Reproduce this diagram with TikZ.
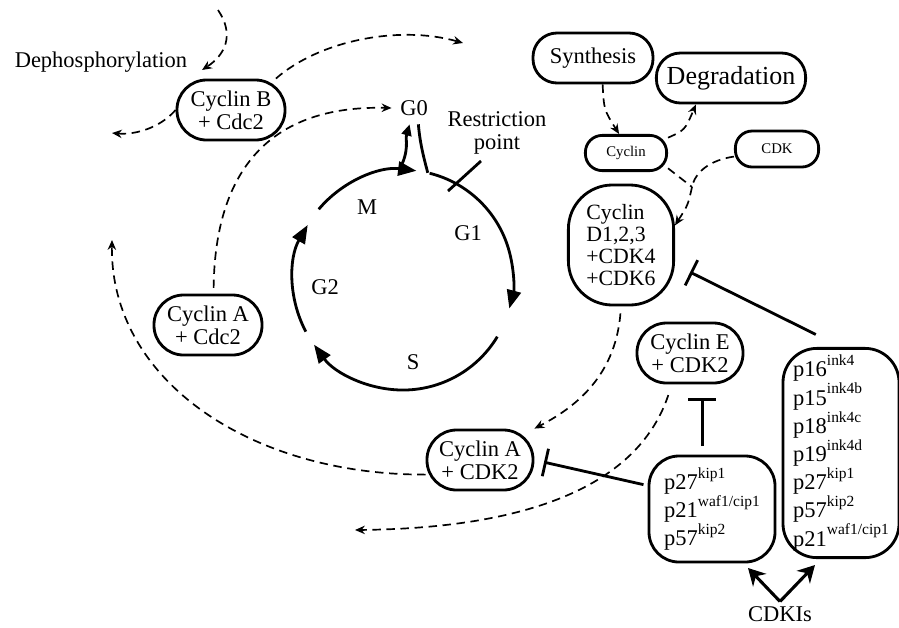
\documentclass[tikz,border=0pt]{standalone}
\usepackage{fontspec}
\setmainfont{Liberation Serif}
\usetikzlibrary{arrows.meta}
\newcommand{\hi}[1]{\raisebox{0.5em}{\fontsize{11}{11}\selectfont #1}}

\begin{document}
\begin{tikzpicture}[x=0.025cm,y=-0.025cm,
	pill/.style={draw,line width=2pt,rounded corners=0.74cm,align=center,inner sep=1pt,font=\fontsize{16}{16.5}\selectfont,minimum width=2.7cm,minimum height=1.5cm},
	tall/.style={draw,line width=2pt,align=left,inner sep=2pt,font=\fontsize{16}{18}\selectfont},
	lbl/.style={font=\fontsize{16}{16}\selectfont},
	phase/.style={line width=2pt,-{Triangle[length=13pt,width=10pt]}},
	dsh/.style={line width=1.2pt,dash pattern=on 6pt off 4pt,-{Stealth[length=7pt,width=6pt]}},
	dshline/.style={line width=1.2pt,dash pattern=on 6pt off 4pt},
	inh/.style={line width=2pt,-{Bar[width=20pt]}}]
	\useasboundingbox (0,0) rectangle (899,627);
	\node[pill] (cycB) at (231,110) {Cyclin B\\+ Cdc2};
	\node[pill] (cycAc) at (208,325) {Cyclin A\\+ Cdc2};
	\node[pill,minimum width=2.65cm] (cycAk) at (480,460) {Cyclin A\\+ CDK2};
	\node[pill,minimum width=2.65cm] (cycE) at (690,353) {Cyclin E\\+ CDK2};
	\node[pill,minimum width=3cm,minimum height=1.25cm,rounded corners=0.6cm] (syn) at (593,58) {Synthesis};
	\node[pill,minimum width=3.73cm,minimum height=1.25cm,rounded corners=0.6cm,font=\fontsize{18.5}{19}\selectfont] (deg) at (731,78) {Degradation};
	\node[pill,minimum width=2.03cm,minimum height=0.88cm,rounded corners=0.42cm,font=\fontsize{10.5}{11}\selectfont] (cyc) at (626,153) {Cyclin};
	\node[pill,minimum width=2.08cm,minimum height=0.9cm,rounded corners=0.42cm,font=\fontsize{10.5}{11}\selectfont] (cdk) at (777,149) {CDK};
	\node[tall,minimum width=2.63cm,minimum height=3cm,rounded corners=1.1cm,font=\fontsize{15.5}{15.5}\selectfont] (cycD) at (621,245) {Cyclin\\D1,2,3\\+CDK4\\+CDK6};
	\node[tall,minimum width=3.15cm,minimum height=2.65cm,rounded corners=0.75cm] (p27) at (712,509) {p27\hi{kip1}\\p21\hi{waf1/cip1}\\p57\hi{kip2}};
	\node[tall,minimum width=2.9cm,minimum height=5.23cm,rounded corners=0.85cm] (p16) at (841,453) {p16\hi{ink4}\\p15\hi{ink4b}\\p18\hi{ink4c}\\p19\hi{ink4d}\\p27\hi{kip1}\\p57\hi{kip2}\\p21\hi{waf1/cip1}};
	\node[lbl] (dph) at (101,62) {Dephosphorylation};
	\node[lbl,inner sep=6pt] (g0) at (414,108) {G0};
	\node[lbl,align=center] (rp) at (497,133) {Restriction\\point};
	\node[lbl] (m) at (367,207) {M};
	\node[lbl] (g1) at (468,233) {G1};
	\node[lbl] (g2) at (325,287) {G2};
	\node[lbl] (s) at (413,362) {S};
	\node[lbl] (cdki) at (780,614) {CDKIs};
	\coordinate (c) at (403,280);
	\coordinate (dpin) at (218,10);
	\coordinate (dpto) at (202,70);
	\coordinate (lft1) at (112,133);
	\coordinate (rt1) at (463,43);
	\coordinate (up1) at (112,240);
	\coordinate (lft2) at (355,530);
	\coordinate (mrg) at (692,187);
	\coordinate (kp27) at (748,568);
	\coordinate (kp16) at (815,565);

	\draw[phase] ([shift={(140:2.75cm)}]c) arc[start angle=140,end angle=83,radius=2.75cm];
	\draw[phase] ([shift={(76:2.75cm)}]c) arc[start angle=76,end angle=-15,radius=2.75cm];
	\draw[phase] ([shift={(-31:2.75cm)}]c) arc[start angle=-31,end angle=-144,radius=2.75cm];
	\draw[phase] ([shift={(208:2.75cm)}]c) arc[start angle=208,end angle=150,radius=2.75cm];
	\draw[line width=2pt,-{Triangle[length=8pt,width=7pt]}] ([shift={(92:2.75cm)}]c) .. controls (410,150) and (405,140) .. (g0.-105);
	\draw[line width=2pt] (g0.-75) .. controls (420,145) and (425,162) .. ([shift={(77:2.75cm)}]c);
	\draw[line width=2pt] (448,191) -- (481,161);

	\draw[dsh] (dpin) .. controls (235,35) and (225,55) .. (dpto);
	\draw[dsh] (cycB.west) .. controls (160,128) and (135,135) .. (lft1);
	\draw[dsh] (cycB.35) .. controls (320,40) and (400,25) .. (rt1);
	\draw[dsh,shorten <=4pt] (cycAc.80) .. controls (215,170) and (270,105) .. (g0.west);
	\draw[dsh] (cycAk.-165) .. controls (250,475) and (110,380) .. (up1);
	\draw[dsh,shorten <=5pt] (cycD.south) .. controls (615,380) and (570,410) .. (cycAk.north east);
	\draw[dsh,shorten <=8pt] (cycE.-120) .. controls (640,480) and (540,528) .. (lft2);
	\draw[dsh] (syn.-70) .. controls (604,110) .. (cyc.110);
	\draw[dsh] (cyc.20) .. controls (685,130) .. (deg.-143);
	\draw[dshline] (cyc.-20) -- (mrg);
	\draw[dshline] (cdk.-170) .. controls (710,160) and (695,172) .. (mrg);
	\draw[dsh] (mrg) .. controls (688,205) .. (cycD.20);

	\draw[inh,shorten <=20pt,shorten >=12pt] (p16.north) -- (cycD.-20);
	\draw[inh,shorten <=3pt,shorten >=7pt] (p27.160) -- (cycAk.east);
	\draw[inh,shorten <=6pt,shorten >=10pt] (p27.100) -- (p27.100 |- cycE.south);
	\draw[line width=2.2pt,-{Stealth[length=12pt,width=13pt]}] (cdki.north) -- (kp27);
	\draw[line width=2.2pt,-{Stealth[length=12pt,width=13pt]}] (cdki.north) -- (kp16);
\end{tikzpicture}
\end{document}
